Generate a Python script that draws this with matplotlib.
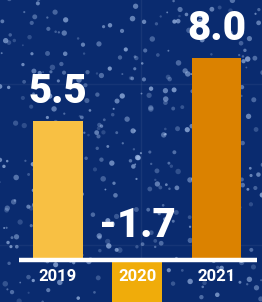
import numpy as np
import matplotlib
matplotlib.use("Agg")
import matplotlib.pyplot as plt

years = ["2019", "2020", "2021"]
values = [5.5, -1.7, 8.0]
value_labels = ["5.5", "-1.7", "8.0"]
colors = ["#F8C043", "#F0AC0A", "#DB8200"]
bg = "#0A2B6F"

fig = plt.figure(figsize=(2.62, 3.02), dpi=100, facecolor=bg)
ax = fig.add_axes([0, 0, 1, 1])
ax.set_facecolor(bg)

# px scale: 79.25 px per category, 25.2 px per unit
ax.set_xlim(-58 / 79.25, (262 - 58) / 79.25)
ax.set_ylim(-42 / 25.2, 260 / 25.2)
ax.axis("off")

# decorative sparkle background
rng = np.random.default_rng(7)
n = 420
sx = rng.uniform(-0.75, 2.6, n)
sy = rng.uniform(-1.7, 10.4, n)
ss = rng.uniform(1.5, 16, n)
sa = rng.uniform(0.2, 0.7, n)
cols = np.zeros((n, 4))
cols[:, :3] = matplotlib.colors.to_rgb("#A9C4EE")
cols[:, 3] = sa
ax.scatter(sx, sy, s=ss, c=cols, linewidths=0, zorder=1)

# faint background grid lines
ax.axvline(1.05, color="white", alpha=0.06, lw=1, zorder=1)
ax.axhline(7.0, color="white", alpha=0.05, lw=1, zorder=1)
ax.axhline(0.6, color="white", alpha=0.05, lw=1, zorder=1)

x = np.arange(len(years))
ax.bar(x, values, width=0.63, color=colors, zorder=2)

ax.plot([-0.49, 2.51], [0, 0], color="white", lw=3.2, solid_capstyle="butt", zorder=3)

for xi, v, lab in zip(x, values, value_labels):
    y = v + 1.17 if v > 0 else 1.35
    ax.text(xi, y, lab, ha="center", va="center", fontsize=29, zorder=4,
            family="Roboto", weight=900, color="white")
    ax.text(xi, -0.64, years[xi], ha="center", va="center", fontsize=12, zorder=4,
            family="Roboto", weight="bold", color="white")

fig.savefig("out.png", dpi=100, facecolor=bg)
